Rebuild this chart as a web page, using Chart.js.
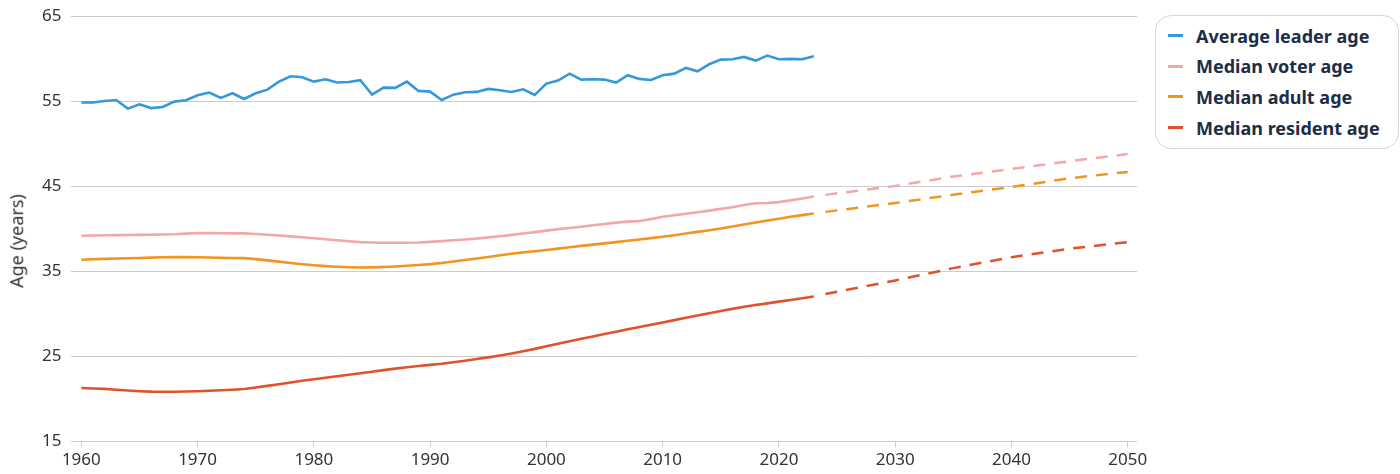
<!DOCTYPE html>
<html>
<head>
<meta charset="utf-8">
<script src="https://cdn.jsdelivr.net/npm/chart.js@4.4.1/dist/chart.umd.min.js"></script>
<style>
  body { margin: 0; background: #fff; font-family: "Noto Sans", sans-serif; }
  #wrap { position: relative; width: 1400px; height: 474px; overflow: hidden; }
  #ageChart { position: absolute; left: 0; top: -4px; }
  #y-title {
    position: absolute; left: 17px; top: 241px; transform: translate(-50%, -50%) rotate(-90deg);
    font-size: 18px; color: #333; white-space: nowrap; line-height: 1.2;
  }
  #legend-container {
    position: absolute; left: 1155px; top: 15px; width: 244px; height: 134px;
    border: 1px solid #d6d6d6; border-radius: 16px; box-sizing: border-box;
  }
  .legend-item {
    position: absolute; left: 12px; height: 22px; display: flex; align-items: center;
    font-weight: 700; font-size: 18px; color: #1b2e46; white-space: nowrap;
  }
  .legend-item .mark { display: inline-block; width: 15px; height: 3px; margin-right: 13px; }
</style>
</head>
<body>
<div id="wrap">
  <canvas id="ageChart" width="1150" height="478"></canvas>
  <div id="y-title">Age (years)</div>
  <div id="legend-container"></div>
</div>
<script>
const YEARS = [];
for (let y = 1960; y <= 2023; y++) YEARS.push(y);
const PROJ_YEARS = [2024, 2030, 2035, 2040, 2045, 2050];
const X_TICKS = [1960, 1970, 1980, 1990, 2000, 2010, 2020, 2030, 2040, 2050];

const LABELS = ['Average leader age', 'Median voter age', 'Median adult age', 'Median resident age'];
const COLORS = ['#3598d8', '#f4a7a7', '#f3941f', '#df522a'];

const LEADER_AGE = [
  54.85, 54.85, 55.03, 55.15, 54.14, 54.65, 54.2, 54.33, 54.96, 55.12,
  55.7, 56.02, 55.4, 55.94, 55.27, 55.94, 56.37, 57.31, 57.94, 57.82,
  57.31, 57.59, 57.2, 57.27, 57.47, 55.78, 56.6, 56.57, 57.31, 56.22,
  56.14, 55.15, 55.78, 56.06, 56.1, 56.45, 56.29, 56.1, 56.41, 55.74,
  57.08, 57.43, 58.25, 57.55, 57.59, 57.55, 57.2, 58.06, 57.63, 57.51,
  58.06, 58.25, 58.92, 58.53, 59.35, 59.9, 59.94, 60.21, 59.78, 60.37,
  59.94, 59.98, 59.94, 60.29
];
const VOTER_AGE = [
  39.2, 39.22, 39.25, 39.27, 39.28, 39.3, 39.32, 39.35, 39.38, 39.45,
  39.5, 39.5, 39.48, 39.47, 39.47, 39.4, 39.32, 39.22, 39.12, 39.02,
  38.9, 38.78, 38.66, 38.55, 38.45, 38.4, 38.38, 38.37, 38.37, 38.4,
  38.47, 38.56, 38.66, 38.76, 38.86, 39.0, 39.14, 39.3, 39.46, 39.62,
  39.8, 39.97, 40.1, 40.25, 40.42, 40.58, 40.74, 40.85, 40.92, 41.15,
  41.42, 41.6, 41.78, 41.95, 42.15, 42.35, 42.55, 42.8, 43.02, 43.05,
  43.15, 43.35, 43.58, 43.8
];
const ADULT_AGE = [
  36.37, 36.43, 36.48, 36.52, 36.55, 36.58, 36.62, 36.66, 36.68, 36.68,
  36.66, 36.63, 36.6, 36.58, 36.56, 36.45, 36.3, 36.15, 35.99, 35.85,
  35.72, 35.62, 35.55, 35.5, 35.47, 35.48, 35.52, 35.58, 35.66, 35.76,
  35.86, 36.0, 36.16, 36.34, 36.52, 36.7, 36.9, 37.08, 37.24, 37.38,
  37.52, 37.68, 37.85, 38.0, 38.15, 38.3, 38.45, 38.6, 38.75, 38.92,
  39.08, 39.25, 39.45, 39.65, 39.85, 40.05, 40.28, 40.52, 40.76, 40.98,
  41.2, 41.42, 41.62, 41.8
];
const RESIDENT_AGE = [
  21.3, 21.25, 21.2, 21.1, 21.0, 20.92, 20.87, 20.86, 20.86, 20.88,
  20.92, 20.97, 21.03, 21.1, 21.18, 21.35, 21.55, 21.75, 21.95, 22.15,
  22.33, 22.5, 22.68, 22.86, 23.04, 23.22, 23.4, 23.58, 23.74, 23.88,
  24.02, 24.15, 24.32, 24.5, 24.7, 24.9, 25.12, 25.36, 25.62, 25.9,
  26.2, 26.5, 26.8, 27.08, 27.36, 27.64, 27.92, 28.2, 28.47, 28.74,
  29.01, 29.28, 29.55, 29.82, 30.08, 30.34, 30.6, 30.85, 31.05, 31.25,
  31.45, 31.65, 31.85, 32.05
];
const VOTER_PROJ = [44.0, 45.05, 46.15, 47.05, 47.95, 48.8];
const ADULT_PROJ = [42.0, 43.04, 44.02, 44.92, 45.95, 46.7];
const RESIDENT_PROJ = [32.35, 33.94, 35.39, 36.68, 37.67, 38.45];

const toPoints = (xs, ys) => xs.map((x, i) => ({ x, y: ys[i] }));

const solidSeries = [LEADER_AGE, VOTER_AGE, ADULT_AGE, RESIDENT_AGE];
const projSeries = [null, VOTER_PROJ, ADULT_PROJ, RESIDENT_PROJ];

const datasets = [];
solidSeries.forEach((vals, i) => {
  datasets.push({
    label: LABELS[i],
    data: toPoints(YEARS, vals),
    borderColor: COLORS[i],
    borderWidth: 2.6,
    pointRadius: 0,
    tension: 0,
  });
});
projSeries.forEach((vals, i) => {
  if (!vals) return;
  datasets.push({
    label: LABELS[i] + ' (projection)',
    data: toPoints(PROJ_YEARS, vals),
    borderColor: COLORS[i],
    borderWidth: 2.5,
    borderDash: [12, 9],
    pointRadius: 0,
    tension: 0,
  });
});

// legend
const legendBox = document.getElementById('legend-container');
const ROW_Y = [8.5, 39, 69.5, 100.5];
LABELS.forEach((label, i) => {
  const item = document.createElement('div');
  item.className = 'legend-item';
  item.style.top = ROW_Y[i] + 'px';
  const mark = document.createElement('span');
  mark.className = 'mark';
  mark.style.background = COLORS[i];
  item.appendChild(mark);
  item.appendChild(document.createTextNode(label));
  legendBox.appendChild(item);
});

Chart.defaults.font.family = '"Noto Sans", sans-serif';

new Chart(document.getElementById('ageChart'), {
  type: 'line',
  data: { datasets },
  options: {
    responsive: false,
    animation: false,
    layout: { padding: { top: 4, right: 13, bottom: 2, left: 32 } },
    plugins: { legend: { display: false }, tooltip: { enabled: false } },
    scales: {
      x: {
        type: 'linear',
        min: 1959.15,
        max: 2050.8,
        afterBuildTicks: (axis) => { axis.ticks = X_TICKS.map((v) => ({ value: v })); },
        border: { display: false },
        grid: { drawOnChartArea: false, drawTicks: true, tickLength: 6, color: '#cccccc' },
        ticks: {
          color: '#333333',
          font: { size: 17 },
          padding: 2,
          maxRotation: 0,
          autoSkip: false,
          callback: (v) => String(v),
        },
      },
      y: {
        min: 15,
        max: 65,
        border: { display: false },
        grid: { drawTicks: false, color: '#cccccc' },
        ticks: { stepSize: 10, color: '#333333', font: { size: 17 }, padding: 10 },
      },
    },
  },
});
</script>
</body>
</html>
